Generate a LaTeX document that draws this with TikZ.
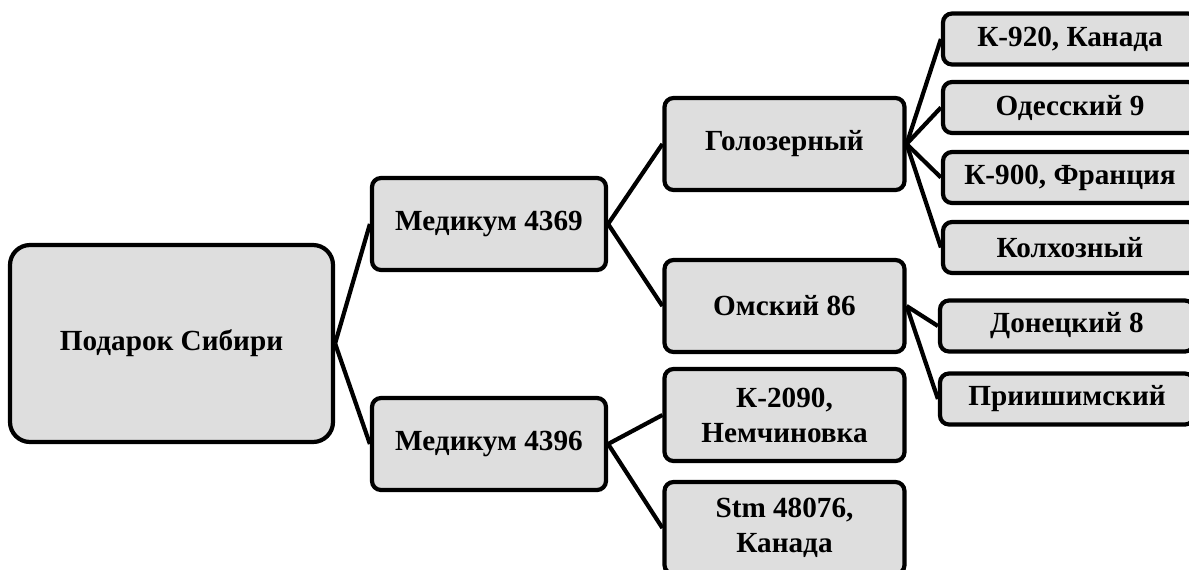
\documentclass[tikz,border=0pt]{standalone}
\usepackage{fontspec}
\setmainfont{Liberation Serif}
\begin{document}
\begin{tikzpicture}[x=0.5pt,y=-0.5pt,
  box/.style={draw=black, line width=2.1pt, fill=boxgray, rounded corners=4.5pt,
    align=center, inner sep=2pt, font=\fontsize{14.6}{17.5}\selectfont\bfseries},
  rootbox/.style={box, rounded corners=10pt, minimum width=161.5pt, minimum height=98.5pt},
  midbox/.style={box, minimum width=117pt, minimum height=46pt},
  subbox/.style={box, minimum width=120pt, minimum height=46pt},
  leafbox/.style={box, minimum width=127pt, minimum height=25.5pt},
  link/.style={draw=black, line width=2.1pt}]
\definecolor{boxgray}{HTML}{DEDEDE}
\useasboundingbox (0,0) rectangle (1189,569);
\clip (0,0) rectangle (1189,569);
\fill[white] (0,0) rectangle (1189,569);

% level 0
\node[rootbox] (root) at (171.5,343.5) {Подарок Сибири};
% level 1
\node[midbox] (m1) at (489,224) {Медикум 4369};
\node[midbox] (m2) at (489,444) {Медикум 4396};
% level 2
\node[subbox] (gol) at (784.5,144) {Голозерный};
\node[subbox] (oms) at (784.5,306) {Омский 86};
\node[subbox] (k2090) at (784.5,415) {К-2090,\\Немчиновка};
\node[subbox] (stm) at (784.5,528) {Stm 48076,\\Канада};
% level 3
\node[leafbox] (k920) at (1070,39) {К-920, Канада};
\node[leafbox] (ode) at (1070,107.5) {Одесский 9};
\node[leafbox] (k900) at (1070,177.5) {К-900, Франция};
\node[leafbox] (kol) at (1070,247.5) {Колхозный};
\node[leafbox] (don) at (1067,326) {Донецкий 8};
\node[leafbox] (pri) at (1067,399) {Приишимский};

% connectors
\path[link] (root.east) -- (m1.west);
\path[link] (root.east) -- (m2.west);
\path[link] (m1.east) -- (gol.west);
\path[link] (m1.east) -- (oms.west);
\path[link] (m2.east) -- (k2090.west);
\path[link] (m2.east) -- (stm.west);
\path[link] (gol.east) -- (k920.west);
\path[link] (gol.east) -- (ode.west);
\path[link] (gol.east) -- (k900.west);
\path[link] (gol.east) -- (kol.west);
\path[link] (oms.east) -- (don.west);
\path[link] (oms.east) -- (pri.west);
\end{tikzpicture}
\end{document}
